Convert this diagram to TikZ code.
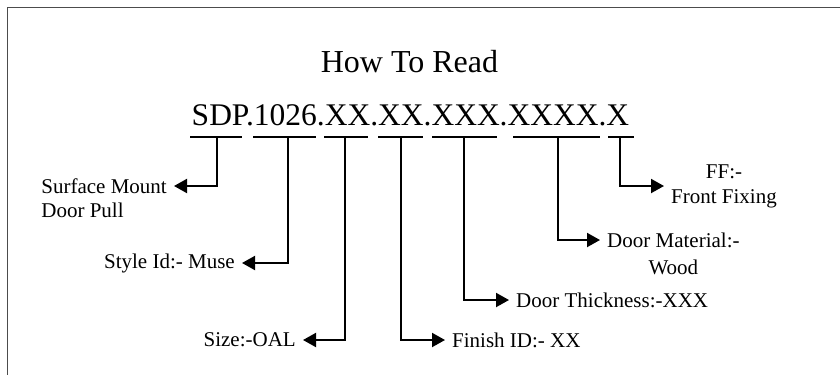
\documentclass[tikz,border=0pt]{standalone}
\usepackage{fontspec}
\setmainfont{Liberation Serif}
\usetikzlibrary{arrows.meta}
\tikzstyle{frameline} = [draw=black!70, line width=1.5pt]
\tikzstyle{heading} = [draw=none, inner sep=0pt, text centered, font=\fontsize{32}{38}\selectfont]
\tikzstyle{partcode} = [draw=none, inner sep=0pt, text centered, font=\fontsize{31.5}{38}\selectfont]
\tikzstyle{lbl} = [draw=none, inner xsep=7pt, inner ysep=0pt, font=\fontsize{21}{25}\selectfont]
\tikzstyle{bar} = [line width=2.5pt]
\tikzstyle{arrow} = [line width=2pt, -{Triangle[length=13pt,width=14pt]}]

\begin{document}
\begin{tikzpicture}[x=1pt, y=-1pt]
		\useasboundingbox (0,0) rectangle (840,375);
		\draw [frameline] (840,7.5) -- (7.5,7.5) -- (7.5,375);
		
		\node (title) [heading, anchor=base] at (409.5,72) {How To Read};
		\node (code) [partcode, anchor=base] at (410.5,125) {SDP.1026.XX.XX.XXX.XXXX.X};
		
		% underlines and tap points
		\foreach \a/\b in {190/242, 253/316, 324/368, 378/423, 432/497, 513/600, 608/634}
			\draw [bar] (\a,137) -- (\b,137);
		\coordinate (u1) at (217,137);
		\coordinate (u2) at (288,137);
		\coordinate (u3) at (345,137);
		\coordinate (u4) at (401,137);
		\coordinate (u5) at (464,137);
		\coordinate (u6) at (558,137);
		\coordinate (u7) at (620,137);
		
		\node (mount) [lbl, anchor=east] at (174,186) {Surface Mount};
		\node (mount2) [lbl, anchor=west] at ([yshift=-24pt]mount.west) {Door Pull};
		\node (style) [lbl, anchor=east] at (242,263) {Style Id:- Muse};
		\node (size) [lbl, anchor=east] at (303,340) {Size:-OAL};
		\node (finish) [lbl, anchor=west] at (445,340) {Finish ID:- XX};
		\node (thick) [lbl, anchor=west] at (509,300) {Door Thickness:-XXX};
		\node (mat) [lbl, anchor=west] at (600,240) {Door Material:-};
		\node (mat2) [lbl] at ([yshift=-27pt]mat.center) {Wood};
		\node (fix) [lbl, anchor=west, align=center] at (664,186) {FF:-\\Front Fixing};
		
		\draw [arrow] (u1) |- (mount.east);
		\draw [arrow] (u2) |- (style.east);
		\draw [arrow] (u3) |- (size.east);
		\draw [arrow] (u4) |- (finish.west);
		\draw [arrow] (u5) |- (thick.west);
		\draw [arrow] (u6) |- (mat.west);
		\draw [arrow] (u7) |- (fix.west);
\end{tikzpicture}
\end{document}
